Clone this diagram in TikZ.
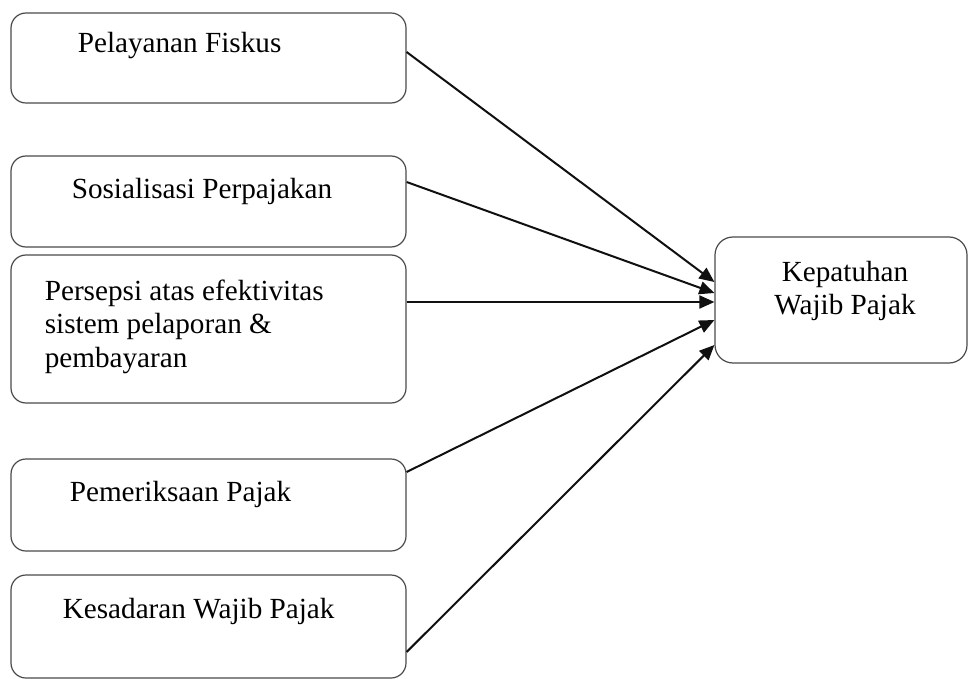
\documentclass[tikz,border=0pt]{standalone}
\usepackage{fontspec}
\setmainfont{Liberation Serif}
\usetikzlibrary{arrows.meta,positioning,calc}
\definecolor{kpBorder}{HTML}{4A4A4A}
\definecolor{kpLine}{HTML}{101010}
\newcommand{\kpfont}{\fontsize{14.6}{16.75}\selectfont}
\tikzset{
    kpFactor/.style={
        draw=kpBorder,
        line width=0.6pt,
        rounded corners=7.5pt,
        inner sep=0pt,
        minimum width=197.5pt
    },
    kpTarget/.style={
        draw=kpBorder,
        line width=0.6pt,
        rounded corners=9pt,
        inner sep=0pt,
        minimum width=126pt,
        minimum height=63pt
    },
    kpText/.style={inner sep=0pt, font=\kpfont, align=left},
    kpArrow/.style={-{Triangle[length=7.5pt,width=6.5pt]}, line width=1pt, kpLine}
}

\begin{document}
\begin{tikzpicture}[x=0.5pt,y=-0.5pt]
    \useasboundingbox (0,0) rectangle (968,679);

    % Independent variables
    \node[kpFactor, minimum height=45pt] (fiskus) at (208.5,58) {};
    \node[kpFactor, minimum height=45.5pt] (sosialisasi) at (208.5,201.5) {};
    \node[kpFactor, minimum height=74pt] (persepsi) at (208.5,329) {};
    \node[kpFactor, minimum height=46pt] (pemeriksaan) at (208.5,505) {};
    \node[kpFactor, minimum height=51.5pt] (kesadaran) at (208.5,626.5) {};

    % Dependent variable
    \node[kpTarget] (kepatuhan) at (841,300) {};

    % Labels
    \node[kpText, anchor=base west] (fiskusText) at ($(fiskus.north west)+(67,40)$) {Pelayanan Fiskus};
    \node[kpText, anchor=base west] (sosialisasiText) at ($(sosialisasi.north west)+(61,43)$) {Sosialisasi Perpajakan};
    \node[kpText, anchor=north west] (persepsiText) at ($(persepsi.north west)+(34,25)$) {Persepsi atas efektivitas\\sistem pelaporan \&\\pembayaran};
    \node[kpText, anchor=base west] (pemeriksaanText) at ($(pemeriksaan.north west)+(59,43)$) {Pemeriksaan Pajak};
    \node[kpText, anchor=base west] (kesadaranText) at ($(kesadaran.north west)+(52,44)$) {Kesadaran Wajib Pajak};
    \node[kpText, align=center, anchor=north] (kepatuhanText) at ($(kepatuhan.north)+(4,24)$) {Kepatuhan\\Wajib Pajak};

    % Arrows
    \draw[kpArrow] ([yshift=3pt]fiskus.east) -- ([yshift=9pt]kepatuhan.west);
    \draw[kpArrow] ([yshift=9.75pt]sosialisasi.east) -- ([yshift=3.5pt]kepatuhan.west);
    \draw[kpArrow] ([yshift=13.5pt]persepsi.east) -- ([yshift=-1pt]kepatuhan.west);
    \draw[kpArrow] ([yshift=16.5pt]pemeriksaan.east) -- ([yshift=-10pt]kepatuhan.west);
    \draw[kpArrow] ([yshift=-12.75pt]kesadaran.east) -- ([yshift=-22.5pt]kepatuhan.west);
\end{tikzpicture}
\end{document}
